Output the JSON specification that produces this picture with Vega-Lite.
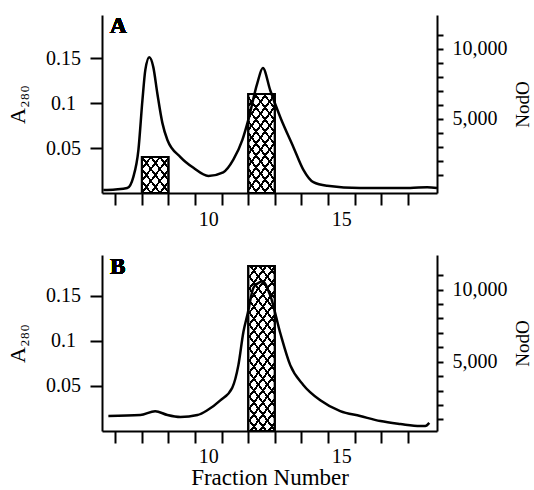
{
  "$schema": "https://vega.github.io/schema/vega-lite/v6.json",
  "background": "white",
  "padding": {"left": 6, "top": 15, "right": 0, "bottom": 0},
  "spacing": 26,
  "config": {
    "view": {"stroke": null},
    "axis": {
      "labelFont": "Liberation Serif", "labelFontSize": 20, "labelColor": "black",
      "titleFont": "Liberation Serif", "titleFontSize": 21, "titleFontWeight": "normal", "titleColor": "black",
      "domainColor": "black", "domainWidth": 2, "tickColor": "black", "tickWidth": 2, "grid": false
    }
  },
  "vconcat": [
    {
      "width": 335, "height": 178,
      "layer": [
        {
          "data": {"values": [
            {"id": "A1", "start": 7.5, "end": 8.5, "nodo": 2270},
            {"id": "A2", "start": 11.5, "end": 12.5, "nodo": 6760}
          ]},
          "layer": [
            {
              "mark": {"type": "rect", "stroke": "black", "strokeWidth": 2},
              "encoding": {
                "x": {"field": "start", "type": "quantitative", "scale": {"domain": [6, 18.6], "nice": false, "zero": false},
                  "axis": {"values": [6.5,7.5,8.5,9.5,10,10.5,11.5,12.5,13.5,14.5,15,15.5,16.5,17.5], "tickCount": 50, "labelExpr": "datum.value % 1 === 0 ? format(datum.value, 'd') : ''", "tickOpacity": {"condition": {"test": "datum.value % 1 === 0", "value": 0}, "value": 1}, "tickSize": 12, "labelPadding": 4, "labelOverlap": false, "title": null}},
                "x2": {"field": "end"},
                "y": {"field": "nodo", "type": "quantitative", "scale": {"domain": [-300, 12400], "nice": false, "zero": false},
                  "axis": {"orient": "right", "values": [1000,2000,3000,4000,5000,6000,7000,8000,9000,10000,11000], "tickCount": 50, "labelExpr": "datum.value % 5000 === 0 ? format(datum.value, ',') : ''", "tickSize": 6, "labelPadding": 9, "title": "NodO", "titleFontSize": 19, "titleAngle": 270, "titleBaseline": "top", "titlePadding": 6, "labelOverlap": false}},
                "y2": {"datum": -300},
                "fill": {
                  "condition": {"test": "datum.id === 'A1'", "value": {"gradient": "linear", "x1": 0, "y1": 0, "x2": 0.9925, "y2": 1.0074, "stops": [
                    {"offset": 0, "color": "black"}, {"offset": 0.0218, "color": "black"}, {"offset": 0.0218, "color": "white"},
                    {"offset": 0.1461, "color": "white"}, {"offset": 0.1461, "color": "black"}, {"offset": 0.1897, "color": "black"}, {"offset": 0.1897, "color": "white"},
                    {"offset": 0.314, "color": "white"}, {"offset": 0.314, "color": "black"}, {"offset": 0.3576, "color": "black"}, {"offset": 0.3576, "color": "white"},
                    {"offset": 0.4819, "color": "white"}, {"offset": 0.4819, "color": "black"}, {"offset": 0.5255, "color": "black"}, {"offset": 0.5255, "color": "white"},
                    {"offset": 0.6498, "color": "white"}, {"offset": 0.6498, "color": "black"}, {"offset": 0.6934, "color": "black"}, {"offset": 0.6934, "color": "white"},
                    {"offset": 0.8177, "color": "white"}, {"offset": 0.8177, "color": "black"}, {"offset": 0.8613, "color": "black"}, {"offset": 0.8613, "color": "white"},
                    {"offset": 0.9856, "color": "white"}, {"offset": 0.9856, "color": "black"}, {"offset": 1, "color": "black"}]}},
                  "value": {"gradient": "linear", "x1": 0, "y1": 0, "x2": 0.4313, "y2": 1.2038, "stops": [
                    {"offset": 0, "color": "black"}, {"offset": 0.0116, "color": "black"}, {"offset": 0.0116, "color": "white"},
                    {"offset": 0.0776, "color": "white"}, {"offset": 0.0776, "color": "black"}, {"offset": 0.1008, "color": "black"}, {"offset": 0.1008, "color": "white"},
                    {"offset": 0.1669, "color": "white"}, {"offset": 0.1669, "color": "black"}, {"offset": 0.1901, "color": "black"}, {"offset": 0.1901, "color": "white"},
                    {"offset": 0.2561, "color": "white"}, {"offset": 0.2561, "color": "black"}, {"offset": 0.2793, "color": "black"}, {"offset": 0.2793, "color": "white"},
                    {"offset": 0.3454, "color": "white"}, {"offset": 0.3454, "color": "black"}, {"offset": 0.3686, "color": "black"}, {"offset": 0.3686, "color": "white"},
                    {"offset": 0.4346, "color": "white"}, {"offset": 0.4346, "color": "black"}, {"offset": 0.4578, "color": "black"}, {"offset": 0.4578, "color": "white"},
                    {"offset": 0.5238, "color": "white"}, {"offset": 0.5238, "color": "black"}, {"offset": 0.547, "color": "black"}, {"offset": 0.547, "color": "white"},
                    {"offset": 0.6131, "color": "white"}, {"offset": 0.6131, "color": "black"}, {"offset": 0.6363, "color": "black"}, {"offset": 0.6363, "color": "white"},
                    {"offset": 0.7023, "color": "white"}, {"offset": 0.7023, "color": "black"}, {"offset": 0.7255, "color": "black"}, {"offset": 0.7255, "color": "white"},
                    {"offset": 0.7915, "color": "white"}, {"offset": 0.7915, "color": "black"}, {"offset": 0.8147, "color": "black"}, {"offset": 0.8147, "color": "white"},
                    {"offset": 0.8808, "color": "white"}, {"offset": 0.8808, "color": "black"}, {"offset": 0.904, "color": "black"}, {"offset": 0.904, "color": "white"},
                    {"offset": 0.97, "color": "white"}, {"offset": 0.97, "color": "black"}, {"offset": 0.9932, "color": "black"}, {"offset": 0.9932, "color": "white"}]}
                }
              }
            },
            {
              "mark": {"type": "rect", "stroke": "black", "strokeWidth": 2},
              "encoding": {
                "x": {"field": "start", "type": "quantitative"},
                "x2": {"field": "end"},
                "y": {"field": "nodo", "type": "quantitative"},
                "y2": {"datum": -300},
                "fill": {
                  "condition": {"test": "datum.id === 'A1'", "value": {"gradient": "linear", "x1": 0, "y1": 1, "x2": 0.9925, "y2": -0.0074, "stops": [
                    {"offset": 0, "color": "black"}, {"offset": 0.0218, "color": "black"}, {"offset": 0.0218, "color": "rgba(0,0,0,0)"},
                    {"offset": 0.1461, "color": "rgba(0,0,0,0)"}, {"offset": 0.1461, "color": "black"}, {"offset": 0.1897, "color": "black"}, {"offset": 0.1897, "color": "rgba(0,0,0,0)"},
                    {"offset": 0.314, "color": "rgba(0,0,0,0)"}, {"offset": 0.314, "color": "black"}, {"offset": 0.3576, "color": "black"}, {"offset": 0.3576, "color": "rgba(0,0,0,0)"},
                    {"offset": 0.4819, "color": "rgba(0,0,0,0)"}, {"offset": 0.4819, "color": "black"}, {"offset": 0.5255, "color": "black"}, {"offset": 0.5255, "color": "rgba(0,0,0,0)"},
                    {"offset": 0.6498, "color": "rgba(0,0,0,0)"}, {"offset": 0.6498, "color": "black"}, {"offset": 0.6934, "color": "black"}, {"offset": 0.6934, "color": "rgba(0,0,0,0)"},
                    {"offset": 0.8177, "color": "rgba(0,0,0,0)"}, {"offset": 0.8177, "color": "black"}, {"offset": 0.8613, "color": "black"}, {"offset": 0.8613, "color": "rgba(0,0,0,0)"},
                    {"offset": 0.9856, "color": "rgba(0,0,0,0)"}, {"offset": 0.9856, "color": "black"}, {"offset": 1, "color": "black"}]}},
                  "value": {"gradient": "linear", "x1": 0, "y1": 1, "x2": 0.4313, "y2": -0.2038, "stops": [
                    {"offset": 0, "color": "black"}, {"offset": 0.0116, "color": "black"}, {"offset": 0.0116, "color": "rgba(0,0,0,0)"},
                    {"offset": 0.0776, "color": "rgba(0,0,0,0)"}, {"offset": 0.0776, "color": "black"}, {"offset": 0.1008, "color": "black"}, {"offset": 0.1008, "color": "rgba(0,0,0,0)"},
                    {"offset": 0.1669, "color": "rgba(0,0,0,0)"}, {"offset": 0.1669, "color": "black"}, {"offset": 0.1901, "color": "black"}, {"offset": 0.1901, "color": "rgba(0,0,0,0)"},
                    {"offset": 0.2561, "color": "rgba(0,0,0,0)"}, {"offset": 0.2561, "color": "black"}, {"offset": 0.2793, "color": "black"}, {"offset": 0.2793, "color": "rgba(0,0,0,0)"},
                    {"offset": 0.3454, "color": "rgba(0,0,0,0)"}, {"offset": 0.3454, "color": "black"}, {"offset": 0.3686, "color": "black"}, {"offset": 0.3686, "color": "rgba(0,0,0,0)"},
                    {"offset": 0.4346, "color": "rgba(0,0,0,0)"}, {"offset": 0.4346, "color": "black"}, {"offset": 0.4578, "color": "black"}, {"offset": 0.4578, "color": "rgba(0,0,0,0)"},
                    {"offset": 0.5238, "color": "rgba(0,0,0,0)"}, {"offset": 0.5238, "color": "black"}, {"offset": 0.547, "color": "black"}, {"offset": 0.547, "color": "rgba(0,0,0,0)"},
                    {"offset": 0.6131, "color": "rgba(0,0,0,0)"}, {"offset": 0.6131, "color": "black"}, {"offset": 0.6363, "color": "black"}, {"offset": 0.6363, "color": "rgba(0,0,0,0)"},
                    {"offset": 0.7023, "color": "rgba(0,0,0,0)"}, {"offset": 0.7023, "color": "black"}, {"offset": 0.7255, "color": "black"}, {"offset": 0.7255, "color": "rgba(0,0,0,0)"},
                    {"offset": 0.7915, "color": "rgba(0,0,0,0)"}, {"offset": 0.7915, "color": "black"}, {"offset": 0.8147, "color": "black"}, {"offset": 0.8147, "color": "rgba(0,0,0,0)"},
                    {"offset": 0.8808, "color": "rgba(0,0,0,0)"}, {"offset": 0.8808, "color": "black"}, {"offset": 0.904, "color": "black"}, {"offset": 0.904, "color": "rgba(0,0,0,0)"},
                    {"offset": 0.97, "color": "rgba(0,0,0,0)"}, {"offset": 0.97, "color": "black"}, {"offset": 0.9932, "color": "black"}, {"offset": 0.9932, "color": "rgba(0,0,0,0)"}]}
                }
              }
            }
          ]
        },
        {
          "data": {"values": [
            {"fraction": 6.05, "a280": 0.0033}, {"fraction": 6.5, "a280": 0.004}, {"fraction": 6.95, "a280": 0.0055},
            {"fraction": 7.18, "a280": 0.018}, {"fraction": 7.37, "a280": 0.048}, {"fraction": 7.52, "a280": 0.103},
            {"fraction": 7.63, "a280": 0.137}, {"fraction": 7.78, "a280": 0.151}, {"fraction": 7.93, "a280": 0.14},
            {"fraction": 8.08, "a280": 0.111}, {"fraction": 8.27, "a280": 0.078}, {"fraction": 8.46, "a280": 0.059},
            {"fraction": 8.95, "a280": 0.04}, {"fraction": 9.44, "a280": 0.028}, {"fraction": 10.0, "a280": 0.019},
            {"fraction": 10.56, "a280": 0.023}, {"fraction": 10.94, "a280": 0.037}, {"fraction": 11.28, "a280": 0.059},
            {"fraction": 11.5, "a280": 0.081}, {"fraction": 11.84, "a280": 0.122}, {"fraction": 12.05, "a280": 0.139},
            {"fraction": 12.33, "a280": 0.114}, {"fraction": 12.71, "a280": 0.084}, {"fraction": 13.2, "a280": 0.051},
            {"fraction": 13.57, "a280": 0.026}, {"fraction": 13.95, "a280": 0.012}, {"fraction": 14.47, "a280": 0.008},
            {"fraction": 15.71, "a280": 0.0055}, {"fraction": 17.59, "a280": 0.0055}, {"fraction": 18.23, "a280": 0.0065},
            {"fraction": 18.6, "a280": 0.0055}
          ]},
          "layer": [
            {
              "mark": {"type": "line", "color": "black", "strokeWidth": 2.5, "interpolate": "monotone"},
              "encoding": {
                "x": {"field": "fraction", "type": "quantitative"},
                "y": {"field": "a280", "type": "quantitative", "scale": {"domain": [0, 0.198], "nice": false, "zero": false},
                  "axis": {"orient": "left", "values": [0.05, 0.1, 0.15], "format": "~g", "tickSize": 12, "labelAlign": "center", "labelPadding": 27, "title": "A₂₈₀", "titleFontSize": 22, "titlePadding": 16}}
              }
            },
            {
              "mark": {"type": "text", "font": "Liberation Serif", "fontSize": 23, "fontWeight": "bold", "align": "left", "baseline": "middle", "fill": "black"},
              "encoding": {"x": {"datum": 6.3}, "y": {"datum": 0.1856}, "text": {"value": "A"}}
            }
          ]
        }
      ],
      "resolve": {"scale": {"y": "independent"}}
    },
    {
      "width": 335, "height": 176,
      "layer": [
        {
          "data": {"values": [
            {"id": "B1", "start": 11.5, "end": 12.5, "nodo": 11630}
          ]},
          "layer": [
            {
              "mark": {"type": "rect", "stroke": "black", "strokeWidth": 2,
                "fill": {"gradient": "linear", "x1": 0, "y1": 0, "x2": 0.2497, "y2": 1.1613, "stops": [
                  {"offset": 0, "color": "black"}, {"offset": 0.0078, "color": "black"}, {"offset": 0.0078, "color": "white"},
                  {"offset": 0.0521, "color": "white"}, {"offset": 0.0521, "color": "black"}, {"offset": 0.0676, "color": "black"}, {"offset": 0.0676, "color": "white"},
                  {"offset": 0.1119, "color": "white"}, {"offset": 0.1119, "color": "black"}, {"offset": 0.1275, "color": "black"}, {"offset": 0.1275, "color": "white"},
                  {"offset": 0.1718, "color": "white"}, {"offset": 0.1718, "color": "black"}, {"offset": 0.1874, "color": "black"}, {"offset": 0.1874, "color": "white"},
                  {"offset": 0.2317, "color": "white"}, {"offset": 0.2317, "color": "black"}, {"offset": 0.2472, "color": "black"}, {"offset": 0.2472, "color": "white"},
                  {"offset": 0.2915, "color": "white"}, {"offset": 0.2915, "color": "black"}, {"offset": 0.3071, "color": "black"}, {"offset": 0.3071, "color": "white"},
                  {"offset": 0.3514, "color": "white"}, {"offset": 0.3514, "color": "black"}, {"offset": 0.3669, "color": "black"}, {"offset": 0.3669, "color": "white"},
                  {"offset": 0.4112, "color": "white"}, {"offset": 0.4112, "color": "black"}, {"offset": 0.4268, "color": "black"}, {"offset": 0.4268, "color": "white"},
                  {"offset": 0.4711, "color": "white"}, {"offset": 0.4711, "color": "black"}, {"offset": 0.4867, "color": "black"}, {"offset": 0.4867, "color": "white"},
                  {"offset": 0.531, "color": "white"}, {"offset": 0.531, "color": "black"}, {"offset": 0.5465, "color": "black"}, {"offset": 0.5465, "color": "white"},
                  {"offset": 0.5908, "color": "white"}, {"offset": 0.5908, "color": "black"}, {"offset": 0.6064, "color": "black"}, {"offset": 0.6064, "color": "white"},
                  {"offset": 0.6507, "color": "white"}, {"offset": 0.6507, "color": "black"}, {"offset": 0.6662, "color": "black"}, {"offset": 0.6662, "color": "white"},
                  {"offset": 0.7105, "color": "white"}, {"offset": 0.7105, "color": "black"}, {"offset": 0.7261, "color": "black"}, {"offset": 0.7261, "color": "white"},
                  {"offset": 0.7704, "color": "white"}, {"offset": 0.7704, "color": "black"}, {"offset": 0.786, "color": "black"}, {"offset": 0.786, "color": "white"},
                  {"offset": 0.8303, "color": "white"}, {"offset": 0.8303, "color": "black"}, {"offset": 0.8458, "color": "black"}, {"offset": 0.8458, "color": "white"},
                  {"offset": 0.8901, "color": "white"}, {"offset": 0.8901, "color": "black"}, {"offset": 0.9057, "color": "black"}, {"offset": 0.9057, "color": "white"},
                  {"offset": 0.95, "color": "white"}, {"offset": 0.95, "color": "black"}, {"offset": 0.9655, "color": "black"}, {"offset": 0.9655, "color": "white"}]}},
              "encoding": {
                "x": {"field": "start", "type": "quantitative", "scale": {"domain": [6, 18.6], "nice": false, "zero": false},
                  "axis": {"values": [6.5,7.5,8.5,9.5,10,10.5,11.5,12.5,13.5,14.5,15,15.5,16.5,17.5], "tickCount": 50, "labelExpr": "datum.value % 1 === 0 ? format(datum.value, 'd') : ''", "tickOpacity": {"condition": {"test": "datum.value % 1 === 0", "value": 0}, "value": 1}, "tickSize": 12, "labelPadding": 3, "labelOverlap": false, "title": "Fraction Number", "titleFontSize": 23, "titlePadding": 0}},
                "x2": {"field": "end"},
                "y": {"field": "nodo", "type": "quantitative", "scale": {"domain": [200, 12400], "nice": false, "zero": false},
                  "axis": {"orient": "right", "values": [1000,2000,3000,4000,5000,6000,7000,8000,9000,10000,11000], "tickCount": 50, "labelExpr": "datum.value % 5000 === 0 ? format(datum.value, ',') : ''", "tickSize": 6, "labelPadding": 9, "title": "NodO", "titleFontSize": 19, "titleAngle": 270, "titleBaseline": "top", "titlePadding": 6, "labelOverlap": false}},
                "y2": {"datum": 200}
              }
            },
            {
              "mark": {"type": "rect", "stroke": "black", "strokeWidth": 2,
                "fill": {"gradient": "linear", "x1": 0, "y1": 1, "x2": 0.2497, "y2": -0.1613, "stops": [
                  {"offset": 0, "color": "black"}, {"offset": 0.0078, "color": "black"}, {"offset": 0.0078, "color": "rgba(0,0,0,0)"},
                  {"offset": 0.0521, "color": "rgba(0,0,0,0)"}, {"offset": 0.0521, "color": "black"}, {"offset": 0.0676, "color": "black"}, {"offset": 0.0676, "color": "rgba(0,0,0,0)"},
                  {"offset": 0.1119, "color": "rgba(0,0,0,0)"}, {"offset": 0.1119, "color": "black"}, {"offset": 0.1275, "color": "black"}, {"offset": 0.1275, "color": "rgba(0,0,0,0)"},
                  {"offset": 0.1718, "color": "rgba(0,0,0,0)"}, {"offset": 0.1718, "color": "black"}, {"offset": 0.1874, "color": "black"}, {"offset": 0.1874, "color": "rgba(0,0,0,0)"},
                  {"offset": 0.2317, "color": "rgba(0,0,0,0)"}, {"offset": 0.2317, "color": "black"}, {"offset": 0.2472, "color": "black"}, {"offset": 0.2472, "color": "rgba(0,0,0,0)"},
                  {"offset": 0.2915, "color": "rgba(0,0,0,0)"}, {"offset": 0.2915, "color": "black"}, {"offset": 0.3071, "color": "black"}, {"offset": 0.3071, "color": "rgba(0,0,0,0)"},
                  {"offset": 0.3514, "color": "rgba(0,0,0,0)"}, {"offset": 0.3514, "color": "black"}, {"offset": 0.3669, "color": "black"}, {"offset": 0.3669, "color": "rgba(0,0,0,0)"},
                  {"offset": 0.4112, "color": "rgba(0,0,0,0)"}, {"offset": 0.4112, "color": "black"}, {"offset": 0.4268, "color": "black"}, {"offset": 0.4268, "color": "rgba(0,0,0,0)"},
                  {"offset": 0.4711, "color": "rgba(0,0,0,0)"}, {"offset": 0.4711, "color": "black"}, {"offset": 0.4867, "color": "black"}, {"offset": 0.4867, "color": "rgba(0,0,0,0)"},
                  {"offset": 0.531, "color": "rgba(0,0,0,0)"}, {"offset": 0.531, "color": "black"}, {"offset": 0.5465, "color": "black"}, {"offset": 0.5465, "color": "rgba(0,0,0,0)"},
                  {"offset": 0.5908, "color": "rgba(0,0,0,0)"}, {"offset": 0.5908, "color": "black"}, {"offset": 0.6064, "color": "black"}, {"offset": 0.6064, "color": "rgba(0,0,0,0)"},
                  {"offset": 0.6507, "color": "rgba(0,0,0,0)"}, {"offset": 0.6507, "color": "black"}, {"offset": 0.6662, "color": "black"}, {"offset": 0.6662, "color": "rgba(0,0,0,0)"},
                  {"offset": 0.7105, "color": "rgba(0,0,0,0)"}, {"offset": 0.7105, "color": "black"}, {"offset": 0.7261, "color": "black"}, {"offset": 0.7261, "color": "rgba(0,0,0,0)"},
                  {"offset": 0.7704, "color": "rgba(0,0,0,0)"}, {"offset": 0.7704, "color": "black"}, {"offset": 0.786, "color": "black"}, {"offset": 0.786, "color": "rgba(0,0,0,0)"},
                  {"offset": 0.8303, "color": "rgba(0,0,0,0)"}, {"offset": 0.8303, "color": "black"}, {"offset": 0.8458, "color": "black"}, {"offset": 0.8458, "color": "rgba(0,0,0,0)"},
                  {"offset": 0.8901, "color": "rgba(0,0,0,0)"}, {"offset": 0.8901, "color": "black"}, {"offset": 0.9057, "color": "black"}, {"offset": 0.9057, "color": "rgba(0,0,0,0)"},
                  {"offset": 0.95, "color": "rgba(0,0,0,0)"}, {"offset": 0.95, "color": "black"}, {"offset": 0.9655, "color": "black"}, {"offset": 0.9655, "color": "rgba(0,0,0,0)"}]}},
              "encoding": {
                "x": {"field": "start", "type": "quantitative"},
                "x2": {"field": "end"},
                "y": {"field": "nodo", "type": "quantitative"},
                "y2": {"datum": 200}
              }
            }
          ]
        },
        {
          "data": {"values": [
            {"fraction": 6.24, "a280": 0.0166}, {"fraction": 7.44, "a280": 0.0177}, {"fraction": 8.0, "a280": 0.022},
            {"fraction": 8.46, "a280": 0.0177}, {"fraction": 8.95, "a280": 0.0155}, {"fraction": 9.59, "a280": 0.0177},
            {"fraction": 9.96, "a280": 0.023}, {"fraction": 10.45, "a280": 0.034}, {"fraction": 10.9, "a280": 0.048},
            {"fraction": 11.13, "a280": 0.073}, {"fraction": 11.32, "a280": 0.11}, {"fraction": 11.47, "a280": 0.129},
            {"fraction": 11.7, "a280": 0.159}, {"fraction": 11.88, "a280": 0.164}, {"fraction": 12.03, "a280": 0.166},
            {"fraction": 12.33, "a280": 0.15}, {"fraction": 12.71, "a280": 0.108}, {"fraction": 13.08, "a280": 0.073},
            {"fraction": 13.57, "a280": 0.051}, {"fraction": 14.21, "a280": 0.034}, {"fraction": 14.96, "a280": 0.022},
            {"fraction": 15.71, "a280": 0.0166}, {"fraction": 16.47, "a280": 0.011}, {"fraction": 17.22, "a280": 0.0078},
            {"fraction": 17.97, "a280": 0.0055}, {"fraction": 18.16, "a280": 0.0055}, {"fraction": 18.31, "a280": 0.009}
          ]},
          "layer": [
            {
              "mark": {"type": "line", "color": "black", "strokeWidth": 2.5, "interpolate": "monotone"},
              "encoding": {
                "x": {"field": "fraction", "type": "quantitative"},
                "y": {"field": "a280", "type": "quantitative", "scale": {"domain": [0, 0.195], "nice": false, "zero": false},
                  "axis": {"orient": "left", "values": [0.05, 0.1, 0.15], "format": "~g", "tickSize": 12, "labelAlign": "center", "labelPadding": 27, "title": "A₂₈₀", "titleFontSize": 22, "titlePadding": 16}}
              }
            },
            {
              "mark": {"type": "text", "font": "Liberation Serif", "fontSize": 23, "fontWeight": "bold", "align": "left", "baseline": "middle", "fill": "black"},
              "encoding": {"x": {"datum": 6.3}, "y": {"datum": 0.182}, "text": {"value": "B"}}
            }
          ]
        }
      ],
      "resolve": {"scale": {"y": "independent"}}
    }
  ]
}
